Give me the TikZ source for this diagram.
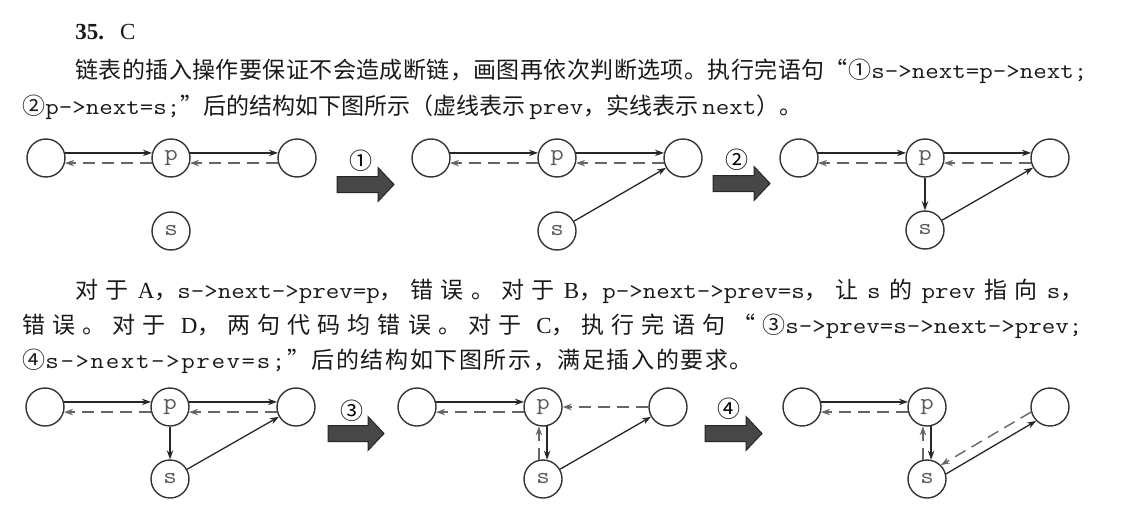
\documentclass[tikz,border=0pt]{standalone}
\usepackage{fontspec}
\setmainfont{Liberation Serif}
\setmonofont{Latin Modern Mono}[FakeStretch=1.14]
\newfontfamily\cjk{Noto Sans CJK SC}
\usetikzlibrary{arrows.meta}
% glue between CJK characters, so that lines can be justified
\newcount\cjkc
\newcommand{\cjkclass}[2]{\cjkc=#1 \loop\XeTeXcharclass\cjkc=7 \advance\cjkc by 1 \ifnum\cjkc<#2 \repeat}
\cjkclass{"4E00}{"A000}
\cjkclass{"3000}{"3040}
\cjkclass{"FF00}{"FF60}
\cjkclass{"2460}{"2474}
\cjkclass{"201C}{"201E}
\XeTeXinterchartokenstate=1
\XeTeXinterchartoks 7 7 = {\hskip 0pt plus 3pt\relax}
\newcommand{\codetxt}[1]{\mbox{\texttt{#1}}}
% spread every character of a short text by a fixed gap
\newdimen\spreadgap \spreadgap=0.8pt
\newcommand{\spreadtxt}[1]{\spreadloop#1\spreadend}
\def\spreadloop#1{\ifx#1\spreadend\else#1\kern\spreadgap\expandafter\spreadloop\fi}

\tikzset{
  nd/.style={circle, draw=black!80, line width=0.7pt, minimum size=19pt, inner sep=0pt,
             font=\fontsize{11.5}{13}\ttfamily, text=black!65},
  nxt/.style={-{Stealth[length=4.5pt, width=3.2pt]}, line width=0.65pt, draw=black!85},
  prv/.style={-{Stealth[length=4.5pt, width=3.2pt]}, line width=0.7pt, draw=black!60,
              dash pattern=on 6pt off 3.5pt},
  bigarr/.style={draw=black!85, fill=black!72, line width=0.5pt, line join=miter},
  txt/.style={anchor=base west, inner sep=0pt, text=black!90}
}

\begin{document}
\begin{tikzpicture}[x=0.5pt, y=-0.5pt, font=\fontsize{11.5}{14}\selectfont]
  \useasboundingbox (0,0) rectangle (1134,508);
  % Texte, premier paragraphe
  \node[txt] (t0) at (75,40) {\textbf{35.}\hskip 8pt C};
  \node[txt] (t1) at (75,79) {\hbox to 506pt{{\cjk 链表的插入操作要保证不会造成断链，画图再依次判断选项。执行完语句“①}\codetxt{s->next=p->next;}}};
  \node[txt] (t2) at (22,115) {{\cjk ②}\codetxt{p->next=s;}{\cjk ”后的结构如下图所示（虚线表示}\hskip 2pt\codetxt{prev}{\cjk ，实线表示}\hskip 2pt\codetxt{next}{\cjk ）。}};
  % Texte, second paragraphe
  \node[txt] (t3) at (75,298) {\hbox to 504pt{{\cjk 对于}\hskip 2pt plus 2pt A{\cjk ，}\codetxt{s->next->prev=p}{\cjk ，错误。对于}\hskip 2pt plus 2pt B{\cjk ，}\codetxt{p->next->prev=s}{\cjk ，让}\hskip 2pt plus 2pt\codetxt{s}\hskip 2pt plus 2pt{\cjk 的}\hskip 2pt plus 2pt\codetxt{prev}\hskip 2pt plus 2pt{\cjk 指向}\hskip 2pt plus 2pt\codetxt{s}{\cjk ，}}};
  \node[txt] (t4) at (22,333) {\hbox to 530pt{{\cjk 错误。对于}\hskip 4pt plus 3pt D{\cjk ，两句代码均错误。对于}\hskip 4pt plus 3pt C{\cjk ，执行完语句“③}\codetxt{s->prev=s->next->prev;}}};
  \node[txt] (t5) at (22,368) {{\cjk ④}\texttt{\spreadtxt{s->next->prev=s;}}{\cjk \spreadtxt{”后的结构如下图所示，满足插入的要求。}}};

  % Etat initial
  \node[nd] (a1) at (46,158) {};
  \node[nd] (p1) at (171,158) {p};
  \node[nd] (b1) at (297,158) {};
  \node[nd] (s1) at (171,231) {s};
  \draw[nxt] (a1.15) -- (p1.165);
  \draw[prv] (p1.195) -- (a1.-15);
  \draw[nxt] (p1.15) -- (b1.165);
  \draw[prv] (b1.195) -- (p1.-15);
  % Fleche 1
  \coordinate (m1) at (337,184.5);
  \draw[bigarr] (m1) ++(0,-8) -- ++(41,0) -- ++(0,-9) -- ++(16,17) -- ++(-16,17) -- ++(0,-9) -- ++(-41,0) -- cycle;
  \node (n1) at (361,161) {\cjk ①};
  % Apres 1
  \node[nd] (a2) at (431,158) {};
  \node[nd] (p2) at (557,158) {p};
  \node[nd] (b2) at (683,158) {};
  \node[nd] (s2) at (557,231) {s};
  \draw[nxt] (a2.15) -- (p2.165);
  \draw[prv] (p2.195) -- (a2.-15);
  \draw[nxt] (p2.15) -- (b2.165);
  \draw[prv] (b2.195) -- (p2.-15);
  \draw[nxt] (s2) -- (b2);
  % Fleche 2
  \coordinate (m2) at (713,183.5);
  \draw[bigarr] (m2) ++(0,-8) -- ++(41,0) -- ++(0,-9) -- ++(16,17) -- ++(-16,17) -- ++(0,-9) -- ++(-41,0) -- cycle;
  \node (n2) at (737,160) {\cjk ②};
  % Apres 2
  \node[nd] (a3) at (799,158) {};
  \node[nd] (p3) at (925,158) {p};
  \node[nd] (b3) at (1050,158) {};
  \node[nd] (s3) at (925,230) {s};
  \draw[nxt] (a3.15) -- (p3.165);
  \draw[prv] (p3.195) -- (a3.-15);
  \draw[nxt] (p3.15) -- (b3.165);
  \draw[prv] (b3.195) -- (p3.-15);
  \draw[nxt] (p3) -- (s3);
  \draw[nxt] (s3) -- (b3);

  % Meme etat, seconde ligne
  \node[nd] (a4) at (45,407) {};
  \node[nd] (p4) at (170,407) {p};
  \node[nd] (b4) at (296,407) {};
  \node[nd] (s4) at (170,479) {s};
  \draw[nxt] (a4.15) -- (p4.165);
  \draw[prv] (p4.195) -- (a4.-15);
  \draw[nxt] (p4.15) -- (b4.165);
  \draw[prv] (b4.195) -- (p4.-15);
  \draw[nxt] (p4) -- (s4);
  \draw[nxt] (s4) -- (b4);
  % Fleche 3
  \coordinate (m3) at (328,433.5);
  \draw[bigarr] (m3) ++(0,-8) -- ++(40,0) -- ++(0,-9) -- ++(16,17) -- ++(-16,17) -- ++(0,-9) -- ++(-40,0) -- cycle;
  \node (n3) at (352,411) {\cjk ③};
  % Apres 3
  \node[nd] (a5) at (417,407) {};
  \node[nd] (p5) at (543,407) {p};
  \node[nd] (b5) at (668,407) {};
  \node[nd] (s5) at (543,479) {s};
  \draw[nxt] (a5.15) -- (p5.165);
  \draw[prv] (p5.195) -- (a5.-15);
  \draw[prv] (b5) -- (p5);
  \draw[nxt] (p5.-78) -- (s5.78);
  \draw[prv] (s5.102) -- (p5.-102);
  \draw[nxt] (s5) -- (b5);
  % Fleche 4
  \coordinate (m4) at (705,433.5);
  \draw[bigarr] (m4) ++(0,-8) -- ++(41,0) -- ++(0,-9) -- ++(16,17) -- ++(-16,17) -- ++(0,-9) -- ++(-41,0) -- cycle;
  \node (n4) at (729,409) {\cjk ④};
  % Apres 4
  \node[nd] (a6) at (802,407) {};
  \node[nd] (p6) at (927,407) {p};
  \node[nd] (b6) at (1050,407) {};
  \node[nd] (s6) at (927,479) {s};
  \draw[nxt] (a6.15) -- (p6.165);
  \draw[prv] (p6.195) -- (a6.-15);
  \draw[nxt] (p6.-78) -- (s6.78);
  \draw[prv] (s6.102) -- (p6.-102);
  \draw[nxt] (s6.15) -- (b6.225);
  \draw[prv] (b6.195) -- (s6.45);
\end{tikzpicture}
\end{document}
